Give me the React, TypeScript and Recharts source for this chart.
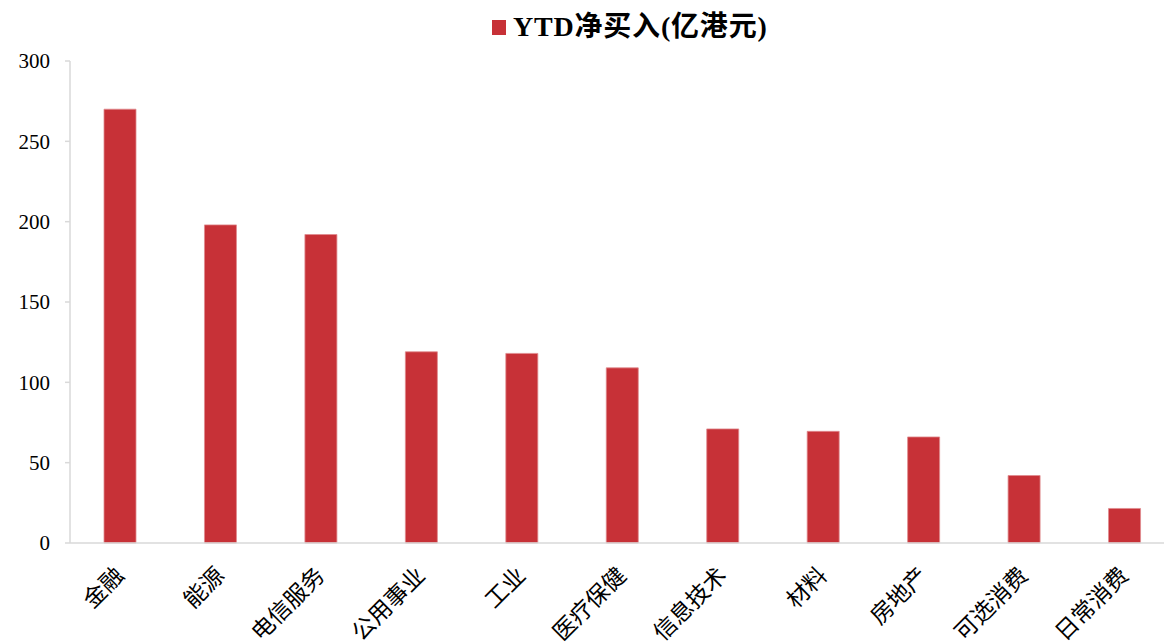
import { BarChart, Bar, XAxis, YAxis } from "recharts";

const SECTORS = [
  "金融", "能源", "电信服务", "公用事业", "工业", "医疗保健",
  "信息技术", "材料", "房地产", "可选消费", "日常消费",
];
const YTD_NET_BUY = [270, 198, 192, 119, 118, 109, 71, 69.5, 66, 42, 21.5];
const Y_TICKS = [0, 50, 100, 150, 200, 250, 300];

const SERIES_NAME = "YTD净买入(亿港元)";
const BAR_COLOR = "#C73137";
const AXIS_COLOR = "#d9d9d9";
const LATIN_FONT = "'Liberation Serif', 'Times New Roman', serif";
const CJK_FONT = "'Noto Sans CJK SC', sans-serif";

const data = SECTORS.map((name, i) => ({ name, value: YTD_NET_BUY[i] }));

function SectorTick({ x, y, payload }: any) {
  const tx = x + 5;
  const ty = y + 26;
  return (
    <text
      x={tx}
      y={ty}
      transform={`rotate(-45, ${tx}, ${ty})`}
      textAnchor="end"
      fontSize={23}
      fontFamily={CJK_FONT}
      fill="#000"
    >
      {payload.value}
    </text>
  );
}

export default function App() {
  return (
    <div style={{ position: "absolute", left: 0, top: 0, width: 1164, height: 644, overflow: "hidden", background: "#fff" }}>
      {/* legend sits above the plot without taking space from it */}
      <div
        style={{
          position: "absolute", top: 10, left: 492, display: "flex", alignItems: "center",
          fontFamily: `${LATIN_FONT}, ${CJK_FONT}`, whiteSpace: "nowrap",
        }}
      >
        <span style={{ width: 14, height: 15, background: BAR_COLOR, marginRight: 7 }} />
        <span style={{ fontSize: 28, fontWeight: "bold", color: "#000", lineHeight: "34px", letterSpacing: 0.8 }}>
          {SERIES_NAME}
        </span>
      </div>
      <BarChart
        width={1190}
        height={644}
        data={data}
        margin={{ top: 61, right: 15, bottom: 71, left: 0 }}
      >
        <YAxis
          width={70}
          domain={[0, 300]}
          ticks={Y_TICKS}
          interval={0}
          stroke={AXIS_COLOR}
          strokeWidth={1.5}
          tickSize={5}
          tickMargin={15}
          tick={{ fill: "#000", fontSize: 21, fontFamily: LATIN_FONT }}
        />
        <XAxis
          dataKey="name"
          height={30}
          interval={0}
          tickLine={false}
          stroke={AXIS_COLOR}
          strokeWidth={1.5}
          tick={<SectorTick />}
        />
        <Bar
          dataKey="value"
          name={SERIES_NAME}
          fill={BAR_COLOR}
          stroke="#e08a8e"
          strokeWidth={0.8}
          barSize={32}
          isAnimationActive={false}
        />
      </BarChart>
    </div>
  );
}
